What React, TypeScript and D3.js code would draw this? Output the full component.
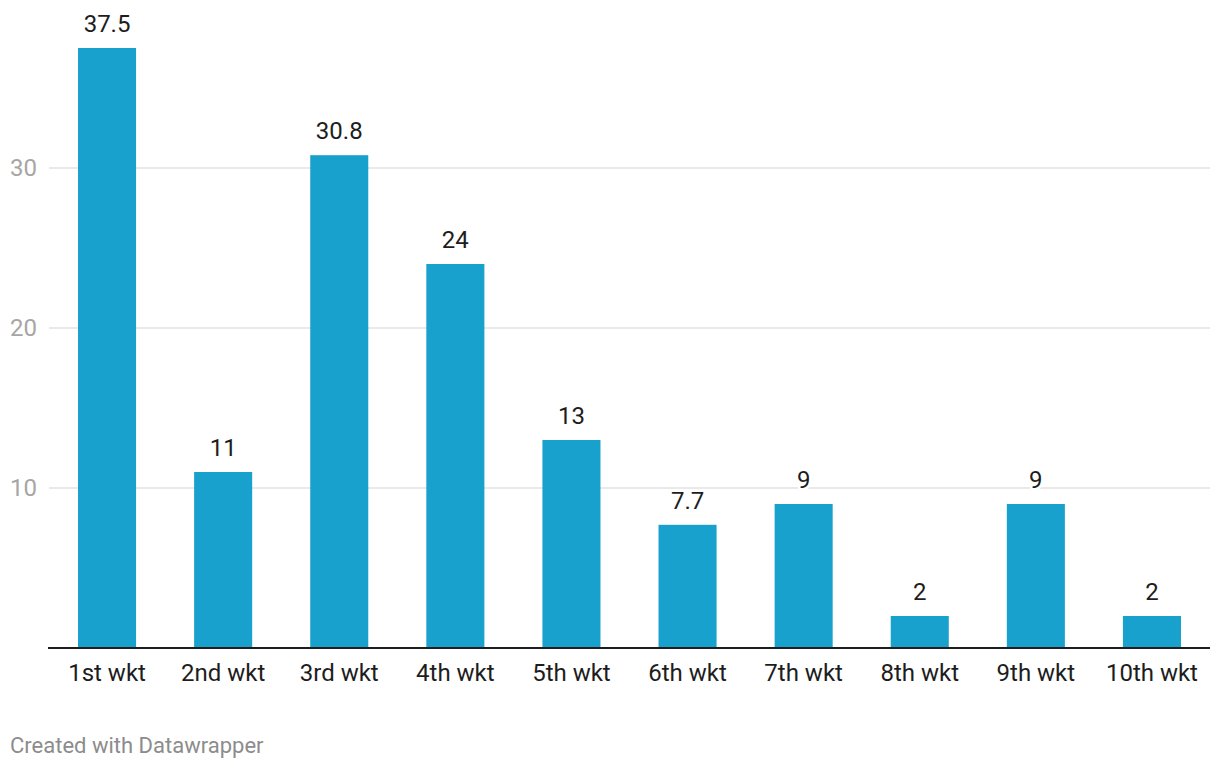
import React from "react";
import * as d3 from "d3";

const categories = ["1st wkt", "2nd wkt", "3rd wkt", "4th wkt", "5th wkt", "6th wkt", "7th wkt", "8th wkt", "9th wkt", "10th wkt"];
const values = [37.5, 11, 30.8, 24, 13, 7.7, 9, 2, 9, 2];
const valueLabels = ["37.5", "11", "30.8", "24", "13", "7.7", "9", "2", "9", "2"];
const yTicks = [10, 20, 30];

export default function App() {
  const W = 1220, H = 768;
  const x = d3.scaleBand<string>().domain(categories).range([49, 1210]).paddingInner(0.5).paddingOuter(0.25);
  const y = d3.scaleLinear().domain([0, 30]).range([648, 168]);
  const font = "Roboto, 'Noto Sans', sans-serif";
  return (
    <svg width={W} height={H} style={{ position: "absolute", left: 0, top: 0, background: "#fff" }} fontFamily={font}>
      {yTicks.map((t) => (
        <g key={t}>
          <line x1={49} x2={1210} y1={y(t)} y2={y(t)} stroke="#e2e2e2" strokeWidth={1.5} />
          <text x={10} y={y(t)} dy="0.35em" fontSize={24} fill="#a6a6a6">{t}</text>
        </g>
      ))}
      {categories.map((c, i) => (
        <rect key={c} x={x(c)} y={y(values[i])} width={x.bandwidth()} height={y(0) - y(values[i])} fill="#18a1cd" />
      ))}
      {categories.map((c, i) => (
        <text key={c} x={x(c)! + x.bandwidth() / 2} y={y(values[i]) - 16} textAnchor="middle" fontSize={24} fill="#1d1d1d"
          stroke="#fff" strokeWidth={5} paintOrder="stroke" strokeLinejoin="round">{valueLabels[i]}</text>
      ))}
      <line x1={48} x2={1210} y1={648} y2={648} stroke="#1d1d1d" strokeWidth={2} />
      {categories.map((c) => (
        <text key={c} x={x(c)! + x.bandwidth() / 2} y={681} textAnchor="middle" fontSize={24} fill="#1d1d1d">{c}</text>
      ))}
      <text x={10} y={753} fontSize={22} fill="#8c8c8c">Created with Datawrapper</text>
    </svg>
  );
}
